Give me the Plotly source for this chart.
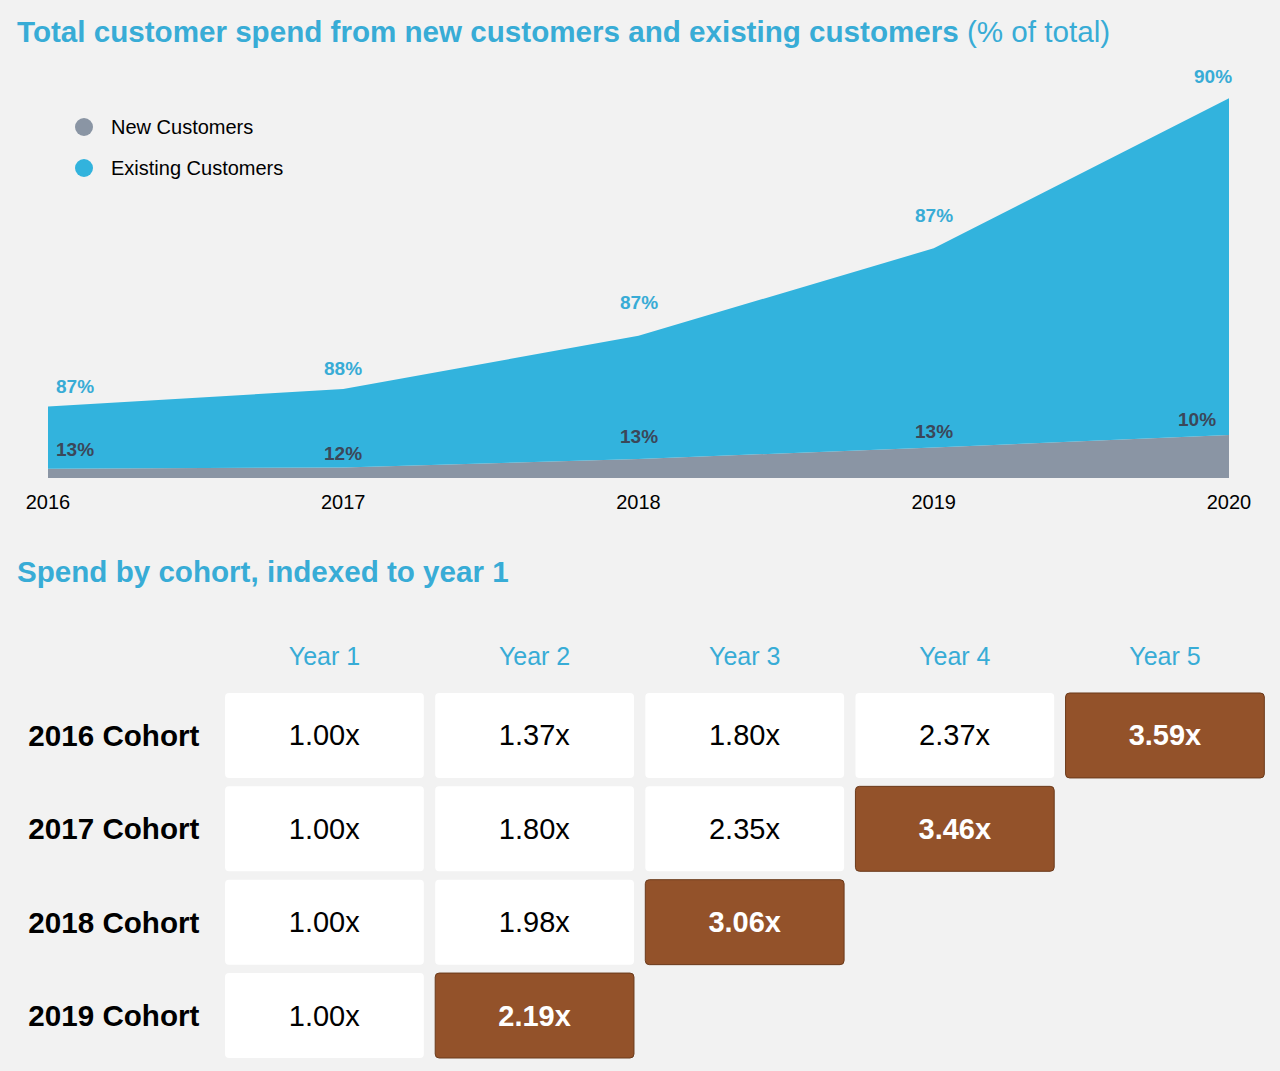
import plotly.graph_objects as go

W, H = 1280, 1071

# area chart data (spend, arbitrary units) and labels
years = [2016, 2017, 2018, 2019, 2020]
new_spend = [9.3, 10.5, 19.0, 30.5, 43.0]
existing_spend = [62.2, 78.5, 123.3, 199.2, 336.7]
new_pct = [13, 12, 13, 13, 10]
existing_pct = [87, 88, 87, 87, 90]

# cohort table
cohorts = ["2016 Cohort", "2017 Cohort", "2018 Cohort", "2019 Cohort"]
year_cols = ["Year 1", "Year 2", "Year 3", "Year 4", "Year 5"]
cohort_values = [
    [1.00, 1.37, 1.80, 2.37, 3.59],
    [1.00, 1.80, 2.35, 3.46],
    [1.00, 1.98, 3.06],
    [1.00, 2.19],
]

FONT = "Liberation Sans, Arial, sans-serif"
BLUE = "#32b3dd"
TITLE_BLUE = "#38acd6"
GREY = "#8a95a4"
DARK = "#3b4759"
BROWN = "#93522a"


def px(x):
    return x / W


def py(y):
    return 1 - y / H


fig = go.Figure()

fig.add_trace(go.Scatter(x=years, y=new_spend, stackgroup="spend", mode="none",
                         fillcolor=GREY, name="New Customers", hoverinfo="skip"))
fig.add_trace(go.Scatter(x=years, y=existing_spend, stackgroup="spend", mode="none",
                         fillcolor=BLUE, name="Existing Customers", hoverinfo="skip"))

# cohort cells as bars with rounded corners
for i, row in enumerate(cohort_values):
    last = len(row) - 1
    colors = [BROWN if j == last else "white" for j in range(len(row))]
    fig.add_trace(go.Bar(
        x=year_cols[:len(row)], y=[0.91] * len(row), base=[i - 0.455] * len(row),
        xaxis="x2", yaxis="y2",
        text=[f"{v:.2f}x" for v in row], textposition="inside",
        insidetextanchor="middle", textangle=0, constraintext="none",
        textfont=dict(family=FONT, size=29,
                      color=["white" if j == last else "black" for j in range(len(row))],
                      weight=["bold" if j == last else "normal" for j in range(len(row))]),
        marker=dict(color=colors, cornerradius=4,
                    line=dict(color=["#6b3a1b" if j == last else "white" for j in range(len(row))],
                              width=[1 if j == last else 0 for j in range(len(row))])),
        hoverinfo="skip", showlegend=False,
    ))

ann = []
ann.append(dict(text="<b>Total customer spend from new customers and existing customers</b> (% of total)",
                x=px(15), y=py(31), xref="paper", yref="paper", xanchor="left", yanchor="middle",
                showarrow=False, font=dict(family=FONT, size=29.6, color=TITLE_BLUE)))
ann.append(dict(text="<b>Spend by cohort, indexed to year 1</b>",
                x=px(15), y=py(571), xref="paper", yref="paper", xanchor="left", yanchor="middle",
                showarrow=False, font=dict(family=FONT, size=29.6, color=TITLE_BLUE)))

# legend
shapes = []
for yy, col, name in [(127, GREY, "New Customers"), (168, BLUE, "Existing Customers")]:
    shapes.append(dict(type="circle", xref="paper", yref="paper",
                       x0=px(75), x1=px(93), y0=py(yy - 9), y1=py(yy + 9),
                       fillcolor=col, line=dict(width=0)))
    ann.append(dict(text=name, x=px(109), y=py(yy), xref="paper", yref="paper",
                    xanchor="left", yanchor="middle", showarrow=False,
                    font=dict(family=FONT, size=20, color="black")))

# area value labels
ex_shift = [20, 20, 33, 33, 22]
new_shift = [19, 14, 22, 16, 15]
anchors = ["left", "center", "center", "center", "right"]
ex_x = [6, 0, 0, 0, 5]
new_x = [6, 0, 0, 0, -11]
for k, yr in enumerate(years):
    total = new_spend[k] + existing_spend[k]
    ann.append(dict(text=f"<b>{existing_pct[k]}%</b>", x=yr, y=total, xref="x", yref="y",
                    xanchor=anchors[k], yanchor="middle", yshift=ex_shift[k], xshift=ex_x[k],
                    showarrow=False, font=dict(family=FONT, size=19, color=TITLE_BLUE)))
    ann.append(dict(text=f"<b>{new_pct[k]}%</b>", x=yr, y=new_spend[k], xref="x", yref="y",
                    xanchor=anchors[k], yanchor="middle", yshift=new_shift[k], xshift=new_x[k],
                    showarrow=False, font=dict(family=FONT, size=19, color=DARK)))

fig.update_layout(
    width=W, height=H, autosize=False,
    margin=dict(l=0, r=0, t=0, b=0, pad=0),
    paper_bgcolor="#f2f2f2", plot_bgcolor="#f2f2f2",
    showlegend=False, barmode="overlay", bargap=0.054,
    font=dict(family=FONT),
    xaxis=dict(domain=[px(48), px(1229)], range=[2016, 2020], tickvals=years,
               showgrid=False, zeroline=False, showline=False, ticks="", automargin=False,
               ticklabelstandoff=10, tickfont=dict(size=20, color="black"), fixedrange=True),
    yaxis=dict(domain=[py(478), py(78)], range=[0, 400], visible=False, fixedrange=True),
    xaxis2=dict(domain=[px(219.4), px(1270)], anchor="y2", side="top", type="category",
                categoryorder="array", categoryarray=year_cols, range=[-0.5, 4.5],
                showgrid=False, zeroline=False, showline=False, ticks="", automargin=False,
                ticklabelstandoff=18, tickfont=dict(size=25, color=TITLE_BLUE)),
    yaxis2=dict(domain=[py(1062.2), py(688.8)], anchor="x2", range=[3.5, -0.5],
                tickvals=list(range(len(cohorts))), ticktext=[f"<b>{c}</b>" for c in cohorts],
                showgrid=False, zeroline=False, showline=False, ticks="", automargin=False,
                ticklabelstandoff=19, tickfont=dict(size=29.6, color="black")),
    annotations=ann, shapes=shapes,
)

fig.write_html("out.html", config={"responsive": False, "displayModeBar": False},
               post_script="document.body.style.margin='0';document.body.style.overflow='hidden';")
